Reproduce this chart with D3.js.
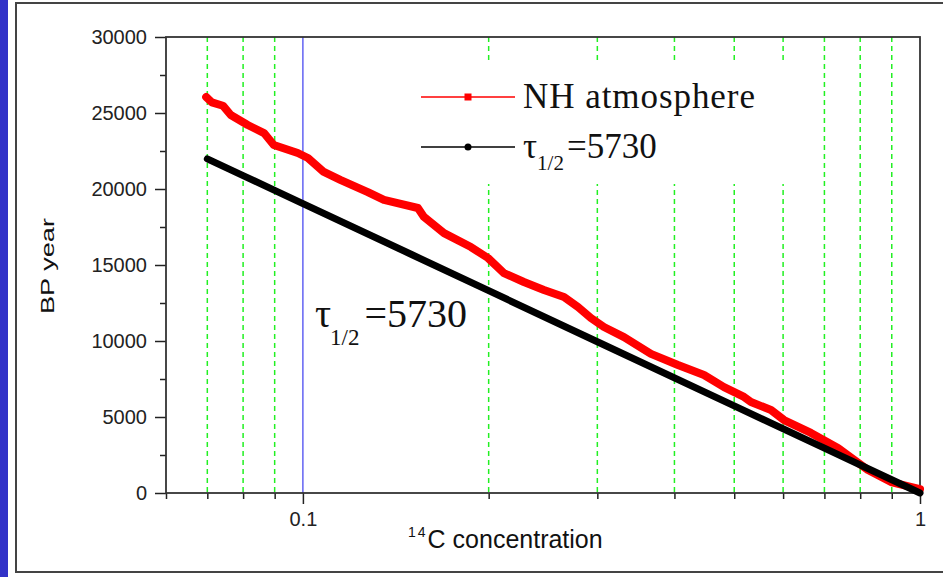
<!DOCTYPE html>
<html>
<head>
<meta charset="utf-8">
<script src="https://cdnjs.cloudflare.com/ajax/libs/d3/7.8.5/d3.min.js"></script>
<style>
  body { margin: 0; background: #fff; }
  svg { display: block; }
  .tick text { font-family: "Liberation Sans", Arial, sans-serif; font-size: 20px; fill: #222; }
  .tick line { stroke: #222; stroke-width: 1.5; }
  .serif { font-family: "Liberation Serif", "Times New Roman", serif; fill: #111; }
</style>
</head>
<body>
<svg id="chart" width="943" height="577"></svg>
<script>
// NH atmosphere calibration curve (14C concentration vs BP year)
var nhConc = [0.0697, 0.0712, 0.0742, 0.0764, 0.0814, 0.0865, 0.0897, 0.0981, 0.1019, 0.1081,
              0.1152, 0.1274, 0.1353, 0.1536, 0.1571, 0.1693, 0.1872, 0.1995, 0.2117, 0.2281,
              0.2458, 0.2649, 0.2791, 0.2929, 0.3075, 0.3314, 0.3665, 0.4053, 0.4467, 0.4813,
              0.5186, 0.5322, 0.5735, 0.6020, 0.6657, 0.7363, 0.8235, 0.8975, 1.0];
var nhYear = [26050, 25700, 25480, 24870, 24210, 23680, 22900, 22370, 22040, 21120,
              20590, 19800, 19280, 18750, 18160, 17100, 16180, 15460, 14470, 13880,
              13360, 12900, 12240, 11510, 10920, 10260, 9150, 8420, 7760, 6970,
              6320, 5990, 5460, 4800, 3950, 2960, 1510, 720, 250];

// decay line for half-life 5730 years
var decayConc = [0.07, 0.08, 0.09, 0.1, 0.15, 0.2, 0.3, 0.5, 0.7, 1.0];
var decayYear = [21980, 20880, 19910, 19040, 15690, 13310, 9950, 5730, 2950, 0];

var xMajor = [0.1, 1];
var xMinor = [0.06, 0.07, 0.08, 0.09, 0.2, 0.3, 0.4, 0.5, 0.6, 0.7, 0.8, 0.9];
var yMajor = [0, 5000, 10000, 15000, 20000, 25000, 30000];
var yMinor = [2500, 7500, 12500, 17500, 22500, 27500];
var gridDashed = [0.07, 0.08, 0.09, 0.2, 0.3, 0.4, 0.5, 0.6, 0.7, 0.8, 0.9];
var gridSolid = [0.1];

var svg = d3.select("#chart");

// slide background
svg.append("rect").attr("x", 0).attr("y", 0).attr("width", 8).attr("height", 577).attr("fill", "#3232c8");
svg.append("rect").attr("x", 16).attr("y", 3).attr("width", 940).attr("height", 569)
    .attr("fill", "#fff").attr("stroke", "#444").attr("stroke-width", 2);

var x = d3.scaleLog().domain([0.06, 1]).range([166, 920]);
var y = d3.scaleLinear().domain([0, 30000]).range([493, 37]);

// vertical grid lines
svg.selectAll(".gdash").data(gridDashed).enter().append("line")
    .attr("x1", function (d) { return x(d); }).attr("x2", function (d) { return x(d); })
    .attr("y1", y(30000)).attr("y2", y(0))
    .attr("stroke", "#22f022").attr("stroke-width", 1.5).attr("stroke-dasharray", "5,4");
svg.selectAll(".gsolid").data(gridSolid).enter().append("line")
    .attr("x1", function (d) { return x(d); }).attr("x2", function (d) { return x(d); })
    .attr("y1", y(30000)).attr("y2", y(0))
    .attr("stroke", "#3c3cf0").attr("stroke-width", 1.2);

// legend background hides the grid
svg.append("rect").attr("x", 412).attr("y", 60).attr("width", 390).attr("height", 124).attr("fill", "#fff");

// axes
var gx = svg.append("g").attr("transform", "translate(0," + y(0) + ")");
gx.call(d3.axisBottom(x).tickValues(xMajor).tickSize(11).tickPadding(8).tickFormat(d3.format("")));
gx.select(".domain").remove();
var gxm = svg.append("g").attr("transform", "translate(0," + y(0) + ")");
gxm.call(d3.axisBottom(x).tickValues(xMinor).tickSize(6).tickFormat(""));
gxm.select(".domain").remove();

var gy = svg.append("g").attr("transform", "translate(" + x(0.06) + ",0)");
gy.call(d3.axisLeft(y).tickValues(yMajor).tickSize(11).tickPadding(8).tickFormat(d3.format("")));
gy.select(".domain").remove();
var gym = svg.append("g").attr("transform", "translate(" + x(0.06) + ",0)");
gym.call(d3.axisLeft(y).tickValues(yMinor).tickSize(6).tickFormat(""));
gym.select(".domain").remove();

// plot frame
svg.append("rect").attr("x", x(0.06)).attr("y", y(30000))
    .attr("width", x(1) - x(0.06)).attr("height", y(0) - y(30000))
    .attr("fill", "none").attr("stroke", "#333").attr("stroke-width", 1.8);

// data lines
var nhData = nhConc.map(function (c, i) { return [c, nhYear[i]]; });
var decayData = decayConc.map(function (c, i) { return [c, decayYear[i]]; });
var line = d3.line()
    .x(function (d) { return x(d[0]); })
    .y(function (d) { return y(d[1]); });

svg.append("path").datum(nhData)
    .attr("fill", "none").attr("stroke", "#ff0000").attr("stroke-width", 8)
    .attr("stroke-linejoin", "round").attr("stroke-linecap", "round")
    .attr("d", line);
svg.append("path").datum(decayData)
    .attr("fill", "none").attr("stroke", "#000").attr("stroke-width", 7)
    .attr("stroke-linejoin", "round").attr("stroke-linecap", "round")
    .attr("d", line);

// axis titles
svg.append("text")
    .attr("transform", "translate(54,266) rotate(-90)")
    .attr("text-anchor", "middle")
    .attr("font-family", "Liberation Sans, Arial, sans-serif")
    .attr("font-size", 19)
    .attr("textLength", 96).attr("lengthAdjust", "spacingAndGlyphs")
    .attr("fill", "#111")
    .text("BP year");

var xt = svg.append("text")
    .attr("x", 408).attr("y", 548)
    .attr("font-family", "Liberation Sans, Arial, sans-serif")
    .attr("font-size", 25).attr("fill", "#111");
xt.append("tspan").attr("font-size", 14).attr("dy", -11).attr("letter-spacing", 2).text("14");
xt.append("tspan").attr("dy", 11).text("C concentration");

// legend
svg.append("line").attr("x1", 421).attr("x2", 515).attr("y1", 97).attr("y2", 97)
    .attr("stroke", "#ff0000").attr("stroke-width", 1.3);
svg.append("rect").attr("x", 464.5).attr("y", 93.5).attr("width", 7).attr("height", 7).attr("fill", "#ff0000");
svg.append("text").attr("class", "serif").attr("x", 523).attr("y", 108)
    .attr("font-size", 35).attr("textLength", 232).attr("lengthAdjust", "spacing")
    .text("NH atmosphere");

svg.append("line").attr("x1", 421).attr("x2", 515).attr("y1", 147).attr("y2", 147)
    .attr("stroke", "#000").attr("stroke-width", 1.3);
svg.append("circle").attr("cx", 468).attr("cy", 147).attr("r", 3.5).attr("fill", "#000");
var lt = svg.append("text").attr("class", "serif").attr("x", 523).attr("y", 158).attr("font-size", 35);
lt.append("tspan").text("\u03c4");
lt.append("tspan").attr("font-size", 21).attr("dy", 12).text("1/2");
lt.append("tspan").attr("dy", -12).attr("dx", 3).text("=5730");

// annotation
var at = svg.append("text").attr("class", "serif").attr("x", 315).attr("y", 327).attr("font-size", 40);
at.append("tspan").text("\u03c4");
at.append("tspan").attr("font-size", 23).attr("dy", 18).attr("dx", -1).text("1/2");
at.append("tspan").attr("dy", -18).attr("dx", 5).text("=5730");
</script>
</body>
</html>
